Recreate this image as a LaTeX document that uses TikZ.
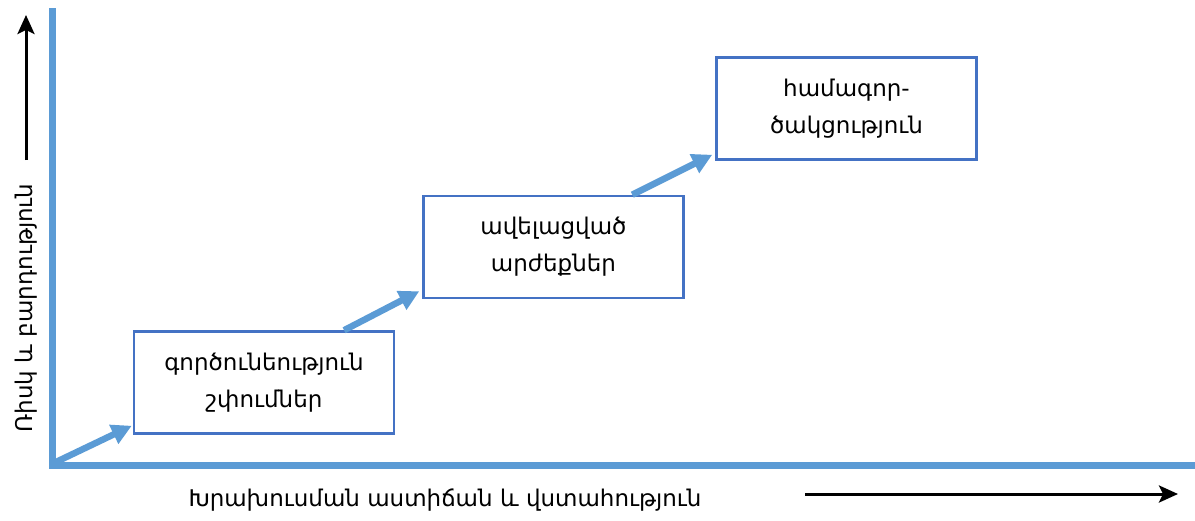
\documentclass[tikz,border=0pt]{standalone}
\usepackage{fontspec}
\setmainfont{DejaVu Sans}
\usetikzlibrary{arrows.meta,calc}
\definecolor{axisblue}{RGB}{91,155,213}
\definecolor{boxblue}{RGB}{68,114,196}
\tikzset{
  stepbox/.style={draw=boxblue,line width=2.5pt,minimum width=260pt,minimum height=102pt,align=center,font=\fontsize{23}{37}\selectfont,inner sep=0pt},
  stair/.style={draw=axisblue,line width=6.5pt,-{Triangle[length=20pt,width=20pt]}},
  blackarrow/.style={draw=black,line width=3pt,-{Stealth[length=19pt,width=17pt,inset=4pt]}},
  lbl/.style={font=\fontsize{23}{27}\selectfont,inner sep=0pt}
}
\begin{document}
\begin{tikzpicture}[x=1pt,y=-1pt]
\useasboundingbox (0,0) rectangle (1195,520);
\draw[axisblue,line width=7pt,miter limit=10] (52,8) -- (52,465) -- (1195,465);
\coordinate (o) at (56,462);
\node[stepbox] (b1) at (264,382.5) {գործունեություն\\շփումներ};
\node[stepbox] (b2) at (553.5,247) {ավելացված\\արժեքներ};
\node[stepbox] (b3) at (846.5,108.5) {համագոր-\\ծակցություն};
\draw[stair] (o) -- ($(b1.south west)+(-1,-9)$);
\draw[stair] ($(b1.north west)!0.805!(b1.north east)$) -- ($(b2.south west)+(-3,-8)$);
\draw[stair] ($(b2.north west)!0.8!(b2.north east)$) -- ($(b3.south west)+(-3,-6)$);
\node[lbl,rotate=90] (yl) at (26,308) {Ռիսկ և բարդություն};
\node[lbl] (xl) at (445,500) {Խրախուսման աստիճան և վստահություն};
\coordinate (ya) at (26,160);
\coordinate (yb) at (26,15);
\coordinate (xa) at (805,494);
\coordinate (xb) at (1178,494);
\draw[blackarrow] (ya) -- (yb);
\draw[blackarrow] (xa) -- (xb);
\end{tikzpicture}
\end{document}
